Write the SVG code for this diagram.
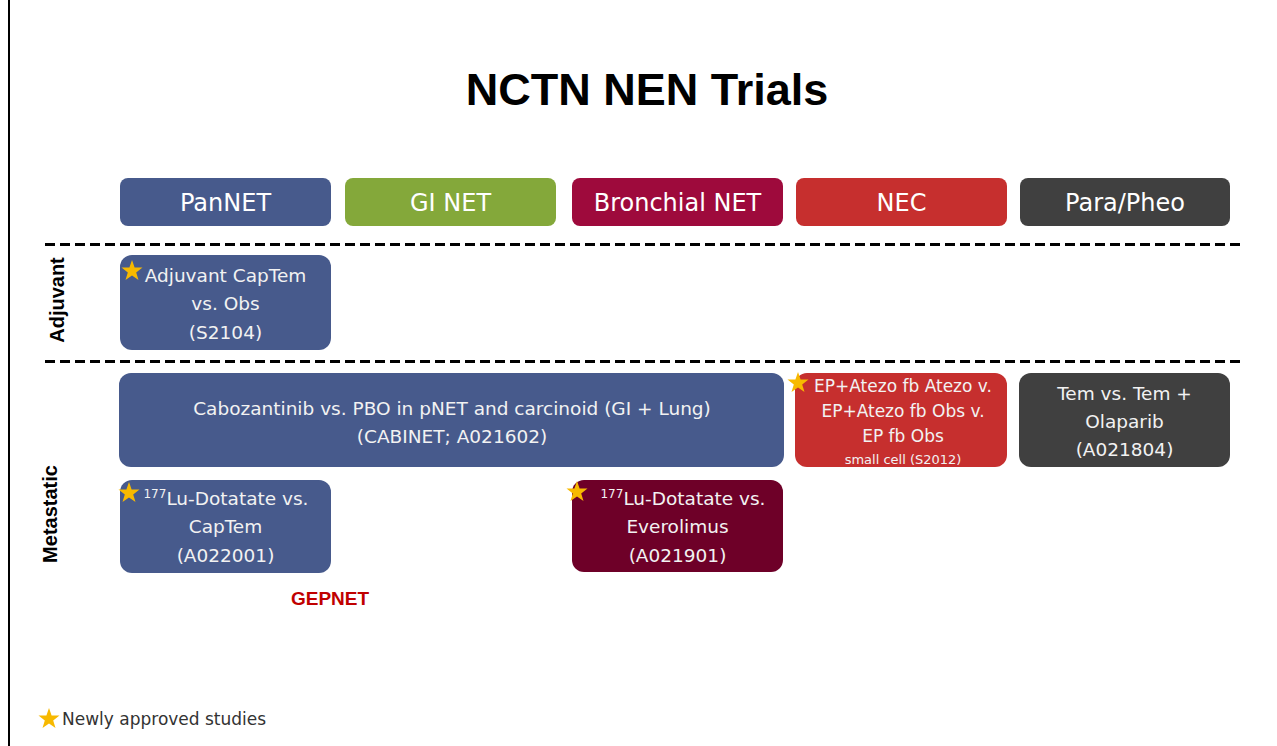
<svg xmlns="http://www.w3.org/2000/svg" width="1277" height="746" viewBox="0 0 1277 746">
<style>
.box{stroke:none}
.hdr{font-family:"DejaVu Sans","Liberation Sans",sans-serif;font-size:24px;fill:#ffffff;text-anchor:middle}
.t{font-family:"DejaVu Sans","Liberation Sans",sans-serif;font-size:18.5px;fill:#f2f2f2;text-anchor:middle}
.nt{font-size:17px}
.sm{font-size:13px}
.side{font-family:"Liberation Sans",Arial,sans-serif;font-weight:bold;font-size:20px;fill:#000;text-anchor:middle}
.dash{stroke:#000;stroke-width:3;stroke-dasharray:10 5;fill:none}
</style>
<defs>
<path id="star" d="M0,-11 L2.6,-3.6 L10.5,-3.4 L4.2,1.4 L6.5,8.9 L0,4.4 L-6.5,8.9 L-4.2,1.4 L-10.5,-3.4 L-2.6,-3.6 Z" fill="#f7b900"/>
</defs>
<rect x="0" y="0" width="1277" height="746" fill="#ffffff"/>
<line x1="9" y1="0" x2="9" y2="746" stroke="#000" stroke-width="2"/>
<text x="647" y="105" font-family="Liberation Sans,Arial,sans-serif" font-weight="bold" font-size="45" text-anchor="middle" fill="#000">NCTN NEN Trials</text>

<g id="headers">
<g id="h-pannet"><rect class="box" x="120" y="178" width="211" height="48" rx="8" fill="#475a8c"/><text class="hdr" x="225.5" y="211">PanNET</text></g>
<g id="h-ginet"><rect class="box" x="345" y="178" width="211" height="48" rx="8" fill="#84a83a"/><text class="hdr" x="450.5" y="211">GI NET</text></g>
<g id="h-bronch"><rect class="box" x="572" y="178" width="211" height="48" rx="8" fill="#9e0a3c"/><text class="hdr" x="677.5" y="211">Bronchial NET</text></g>
<g id="h-nec"><rect class="box" x="796" y="178" width="211" height="48" rx="8" fill="#c62f2e"/><text class="hdr" x="901.5" y="211">NEC</text></g>
<g id="h-para"><rect class="box" x="1020" y="178" width="210" height="48" rx="8" fill="#404040"/><text class="hdr" x="1125" y="211">Para/Pheo</text></g>
</g>

<g id="connectors">
<line class="dash" x1="45" y1="244.5" x2="1242" y2="244.5"/>
<line class="dash" x1="45" y1="361.5" x2="1242" y2="361.5"/>
</g>

<text class="side" transform="translate(64,300) rotate(-90)">Adjuvant</text>
<text class="side" transform="translate(57,514) rotate(-90)">Metastatic</text>

<g id="n-adj">
<rect class="box" x="120" y="255" width="211" height="95" rx="12" fill="#475a8c"/>
<text class="t" x="225.5" y="282">Adjuvant CapTem</text>
<text class="t" x="225.5" y="310">vs. Obs</text>
<text class="t" x="225.5" y="339">(S2104)</text>
<use href="#star" x="132" y="271"/>
</g>

<g id="n-cabinet">
<rect class="box" x="119" y="373" width="665" height="94" rx="12" fill="#475a8c"/>
<text class="t" x="452" y="415">Cabozantinib vs. PBO in pNET and carcinoid (GI + Lung)</text>
<text class="t" x="452" y="443">(CABINET; A021602)</text>
</g>

<g id="n-nec">
<rect class="box" x="795" y="373" width="212" height="94" rx="12" fill="#c62f2e"/>
<text class="t nt" x="903" y="392">EP+Atezo fb Atezo v.</text>
<text class="t nt" x="903" y="417">EP+Atezo fb Obs v.</text>
<text class="t nt" x="903" y="442">EP fb Obs</text>
<text class="t sm" x="903" y="464">small cell (S2012)</text>
<use href="#star" x="798" y="383"/>
</g>

<g id="n-para">
<rect class="box" x="1019" y="373" width="211" height="94" rx="12" fill="#404040"/>
<text class="t" x="1124.5" y="400">Tem vs. Tem +</text>
<text class="t" x="1124.5" y="428">Olaparib</text>
<text class="t" x="1124.5" y="456">(A021804)</text>
</g>

<g id="n-lu1">
<rect class="box" x="120" y="480" width="211" height="93" rx="12" fill="#475a8c"/>
<text class="t" x="226" y="505"><tspan font-size="12" dy="-7">177</tspan><tspan dy="7">Lu-Dotatate vs.</tspan></text>
<text class="t" x="225.5" y="533">CapTem</text>
<text class="t" x="225.5" y="562">(A022001)</text>
<use href="#star" x="129" y="493"/>
</g>

<g id="n-lu2">
<rect class="box" x="572" y="480" width="211" height="92" rx="12" fill="#6e0028"/>
<text class="t" x="683" y="505"><tspan font-size="12" dy="-7">177</tspan><tspan dy="7">Lu-Dotatate vs.</tspan></text>
<text class="t" x="677.5" y="533">Everolimus</text>
<text class="t" x="677.5" y="562">(A021901)</text>
<use href="#star" x="577" y="492"/>
</g>

<text x="330" y="605" font-family="Liberation Sans,Arial,sans-serif" font-weight="bold" font-size="19" fill="#c00000" text-anchor="middle">GEPNET</text>

<g id="legend">
<use href="#star" x="49" y="719"/>
<text x="62" y="725" font-family="DejaVu Sans,Liberation Sans,sans-serif" font-size="17" fill="#333">Newly approved studies</text>
</g>
</svg>
